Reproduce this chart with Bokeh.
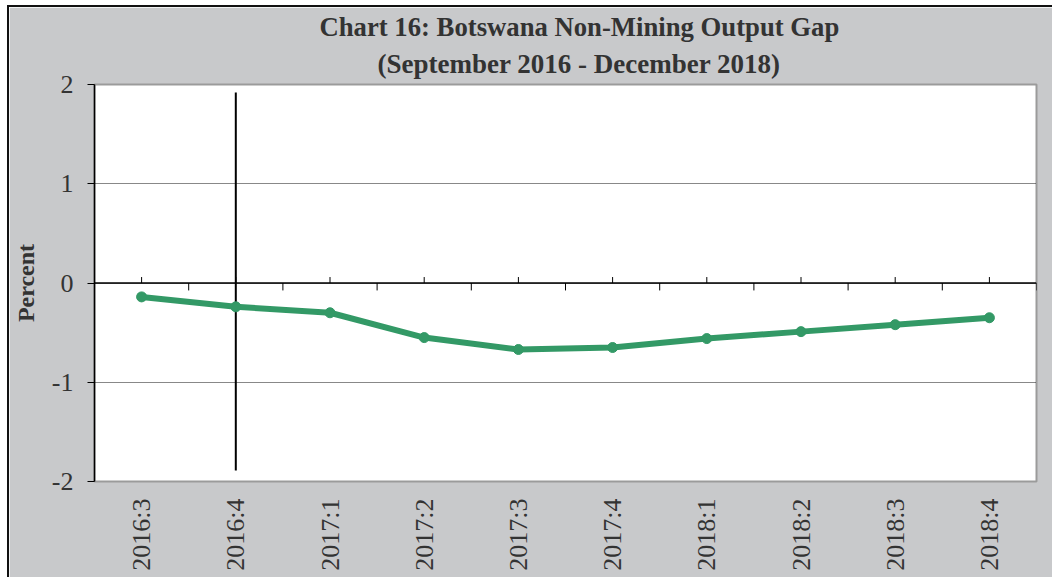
import math
from bokeh.plotting import figure
from bokeh.models import Range1d, FactorRange, Span, Title, FixedTicker
from bokeh.embed import file_html
from bokeh.resources import INLINE

# ---- data ----
title_line1 = "Chart 16: Botswana Non-Mining Output Gap"
title_line2 = "(September 2016 - December 2018)"
y_axis_title = "Percent"
quarters = ["2016:3", "2016:4", "2017:1", "2017:2", "2017:3",
            "2017:4", "2018:1", "2018:2", "2018:3", "2018:4"]
output_gap = [-0.14, -0.24, -0.30, -0.55, -0.67, -0.65, -0.56, -0.49, -0.42, -0.35]
y_ticks = [-2, -1, 0, 1, 2]
y_tick_labels = ["-2", "-1", "0", "1", "2"]
marker_quarter = "2016:4"
marker_top = 1.92
marker_bottom = -1.89

# ---- style ----
SERIF = "Liberation Serif"
TXT = "#333333"
GREEN = "#339966"
BG = "#c8c9cb"

p = figure(width=1045, height=572,
           x_range=FactorRange(*quarters, range_padding=0),
           y_range=Range1d(-2, 2),
           output_backend="svg", toolbar_location=None, title=None,
           min_border_left=82, min_border_right=18,
           min_border_top=77, min_border_bottom=98,
           background_fill_color="white", border_fill_color=BG,
           outline_line_color="#9b9b9b", outline_line_width=2)
p.styles = {"margin-left": "7px", "margin-top": "5px",
            "border-top": "2px solid #111111", "border-left": "2px solid #111111"}

p.xgrid.visible = False
p.ygrid.grid_line_color = "#111111"
p.ygrid.grid_line_dash = "1 1"
p.ygrid.grid_line_width = 1

# y axis
p.yaxis.ticker = FixedTicker(ticks=y_ticks)
p.yaxis.major_label_overrides = {t: l for t, l in zip(y_ticks, y_tick_labels)}
p.yaxis.axis_line_color = "black"
p.yaxis.axis_line_width = 1.5
p.yaxis.major_tick_out = 7
p.yaxis.major_tick_in = 0
p.yaxis.minor_tick_line_color = None
p.yaxis.major_tick_line_color = "black"
p.yaxis.major_label_text_font = SERIF
p.yaxis.major_label_text_font_size = "26px"
p.yaxis.major_label_text_color = TXT
p.yaxis.major_label_standoff = 14
p.yaxis.axis_label = y_axis_title
p.yaxis.axis_label_text_font = SERIF
p.yaxis.axis_label_text_font_size = "24px"
p.yaxis.axis_label_text_font_style = "bold"
p.yaxis.axis_label_text_color = TXT
p.yaxis.axis_label_standoff = 10

# x axis (labels only at the bottom)
p.xaxis.axis_line_color = None
p.xaxis.major_tick_line_color = None
p.xaxis.major_tick_out = 0
p.xaxis.major_tick_in = 0
p.xaxis.major_label_orientation = math.pi / 2
p.xaxis.major_label_standoff = 17
p.xaxis.major_label_text_font = SERIF
p.xaxis.major_label_text_font_size = "26px"
p.xaxis.major_label_text_color = TXT

# zero axis line with ticks
p.add_layout(Span(location=0, dimension="width", line_color="black", line_width=1.5))
n = len(quarters)
tick_up = 0.06
tick_down = 0.075
p.segment(x0=quarters, y0=[0] * n, x1=quarters, y1=[tick_up] * n,
          line_color="black", line_width=1)
boundaries = [(q, -0.5) for q in quarters] + [(quarters[-1], 0.5)]
p.segment(x0=boundaries, y0=[0] * (n + 1), x1=boundaries, y1=[-tick_down] * (n + 1),
          line_color="black", line_width=1)

# vertical marker line
p.segment(x0=[marker_quarter], y0=[marker_top], x1=[marker_quarter], y1=[marker_bottom],
          line_color="black", line_width=2)

# series
p.line(quarters, output_gap, line_color=GREEN, line_width=6)
p.scatter(quarters, output_gap, size=10, fill_color=GREEN, line_color=GREEN)

# title (two lines)
for txt, st, off, fs in ((title_line2, 12, 283, "27px"), (title_line1, -3, 225, "26.7px")):
    p.add_layout(Title(text=txt, align="left", offset=off, standoff=st,
                       text_font=SERIF, text_font_size=fs, text_font_style="bold",
                       text_color=TXT), "above")

open("out.html", "w").write(file_html(p, INLINE))
